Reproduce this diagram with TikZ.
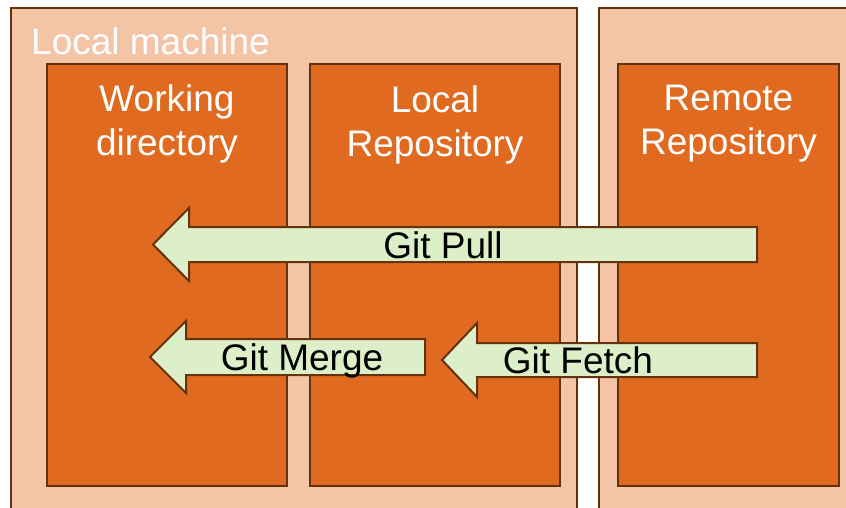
\documentclass[tikz,border=0pt]{standalone}
\usepackage{fontspec}
\setmainfont{Liberation Sans}
\definecolor{peach}{RGB}{243,196,166}
\definecolor{rust}{RGB}{224,107,32}
\definecolor{bark}{RGB}{102,50,14}
\definecolor{mint}{RGB}{220,239,200}
\tikzset{
  machine/.style={draw=bark, line width=2.6pt, fill=peach},
  repo/.style={draw=bark, line width=2.6pt, fill=rust},
  blockarrow/.style={draw=bark, line width=2pt, fill=mint, line join=miter},
  whitelabel/.style={text=white, font=\fontsize{37}{44}\selectfont, inner sep=0pt},
  arrowlabel/.style={text=black, font=\fontsize{37}{44}\selectfont, inner sep=0pt, anchor=base},
}
\begin{document}
\begin{tikzpicture}[x=1pt, y=-1pt]
  \useasboundingbox (0,0) rectangle (846,508);
  \clip (0,0) rectangle (846,508);
  \fill[white] (0,0) rectangle (846,508);

  % machines (both run past the lower and right edges)
  \draw[machine] (11,8) rectangle (577,530);
  \draw[machine] (599,8) rectangle (870,530);
  \node[whitelabel, anchor=base west] (lm) at (31,55) {Local machine};

  % repositories
  \draw[repo] (47,64) rectangle (287,486);
  \draw[repo] (310,64) rectangle (560,486);
  \draw[repo] (618,64) rectangle (839,486);
  \node[whitelabel, anchor=north, align=center] (wd) at (167,84.5) {Working\\directory};
  \node[whitelabel, anchor=north, align=center] (lr) at (435,85) {Local\\Repository};
  \node[whitelabel, anchor=north, align=center] (rr) at (728.5,85) {Remote\\Repository};

  % Git Pull
  \draw[blockarrow] (757,227) -- (189,227) -- (189,208) -- (153,244.5)
    -- (189,281) -- (189,262) -- (757,262) -- cycle;
  \node[arrowlabel] (pull) at (443,258) {Git Pull};

  % Git Merge
  \draw[blockarrow] (425,339) -- (186,339) -- (186,321) -- (150,357)
    -- (186,393) -- (186,375) -- (425,375) -- cycle;
  \node[arrowlabel] (merge) at (302,370.5) {Git Merge};

  % Git Fetch
  \draw[blockarrow] (757,343) -- (477,343) -- (477,323) -- (442,360)
    -- (477,397) -- (477,377) -- (757,377) -- cycle;
  \node[arrowlabel] (fetch) at (578,373.5) {Git Fetch};
\end{tikzpicture}
\end{document}
